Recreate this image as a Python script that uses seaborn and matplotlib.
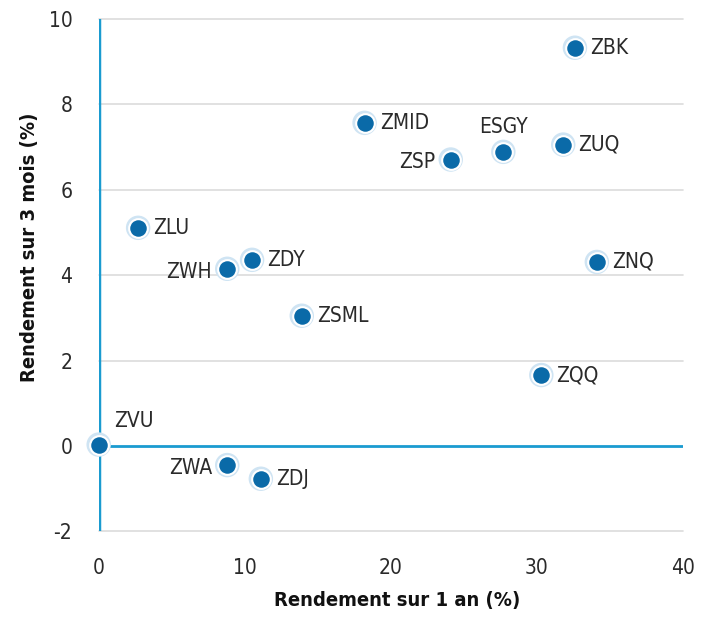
import numpy as np
import pandas as pd
import seaborn as sns
import matplotlib.pyplot as plt

# Rendement 1 an / 3 mois par FNB
tickers = ["ZBK", "ZMID", "ZSP", "ESGY", "ZUQ", "ZLU", "ZWH", "ZDY", "ZNQ",
           "ZSML", "ZQQ", "ZVU", "ZWA", "ZDJ"]
rend_1an = [32.6, 18.2, 24.1, 27.7, 31.8, 2.7, 8.8, 10.5, 34.1,
            13.9, 30.3, 0.0, 8.8, 11.1]
rend_3mois = [9.33, 7.57, 6.71, 6.89, 7.06, 5.11, 4.15, 4.36, 4.31,
              3.05, 1.66, 0.03, -0.45, -0.77]
# label position relative to the point
positions = ["right", "right", "left", "above", "right", "right", "left", "right", "right",
             "right", "right", "aboveright", "left", "right"]

df = pd.DataFrame({"ticker": tickers, "x": rend_1an, "y": rend_3mois, "pos": positions})

sns.set_style("white")
plt.rcParams["font.family"] = ["DejaVu Sans"]
plt.rcParams["font.stretch"] = "condensed"
plt.rcParams["axes.unicode_minus"] = False

fig, ax = plt.subplots(figsize=(7.1, 6.17), dpi=100)
fig.subplots_adjust(left=0.139, right=0.962, bottom=0.139, top=0.969)

axis_blue = "#1a9bd0"
dot_blue = "#0a6aa8"
txt = "#2a2a2a"

ax.set_xlim(0, 40)
ax.set_ylim(-2, 10)
ax.set_yticks(np.arange(-2, 11, 2))
ax.set_xticks(np.arange(0, 41, 10))
for yv in np.arange(-2, 11, 2):
    if yv != 0:
        ax.axhline(yv, color="#dcdcdc", lw=1.2, zorder=0, clip_on=False)
ax.axhline(0, color=axis_blue, lw=2, zorder=1)
ax.axvline(0, color=axis_blue, lw=2.5, zorder=1)

for s in ax.spines.values():
    s.set_visible(False)

# halo + dot
sns.scatterplot(data=df, x="x", y="y", s=310, color="#cfe4f3", edgecolor="none",
                ax=ax, zorder=3, clip_on=False)
sns.scatterplot(data=df, x="x", y="y", s=180, color=dot_blue, edgecolor="white",
                linewidth=1.5, ax=ax, zorder=4, clip_on=False)

for _, r in df.iterrows():
    if r.pos == "right":
        ax.annotate(r.ticker, (r.x, r.y), xytext=(11, 0), textcoords="offset points",
                    ha="left", va="center", fontsize=15, color=txt)
    elif r.pos == "left":
        ax.annotate(r.ticker, (r.x, r.y), xytext=(-11, -2), textcoords="offset points",
                    ha="right", va="center", fontsize=15, color=txt)
    elif r.pos == "above":
        ax.annotate(r.ticker, (r.x, r.y), xytext=(0, 11), textcoords="offset points",
                    ha="center", va="bottom", fontsize=15, color=txt)
    else:
        ax.annotate(r.ticker, (r.x, r.y), xytext=(11, 10), textcoords="offset points",
                    ha="left", va="bottom", fontsize=15, color=txt)

ax.tick_params(axis="both", length=0, labelsize=15, labelcolor=txt, pad=19)
ax.set_xlabel("Rendement sur 1 an (%)", fontsize=14.5, fontweight="bold", color="#111111")
ax.set_ylabel("Rendement sur 3 mois (%)", fontsize=14.5, fontweight="bold", color="#111111")
ax.xaxis.set_label_coords(0.51, -0.135)
ax.xaxis.label.set_va("center")
ax.yaxis.set_label_coords(-0.118, 0.555)
ax.yaxis.label.set_va("center")

fig.savefig("out.png", dpi=100)
